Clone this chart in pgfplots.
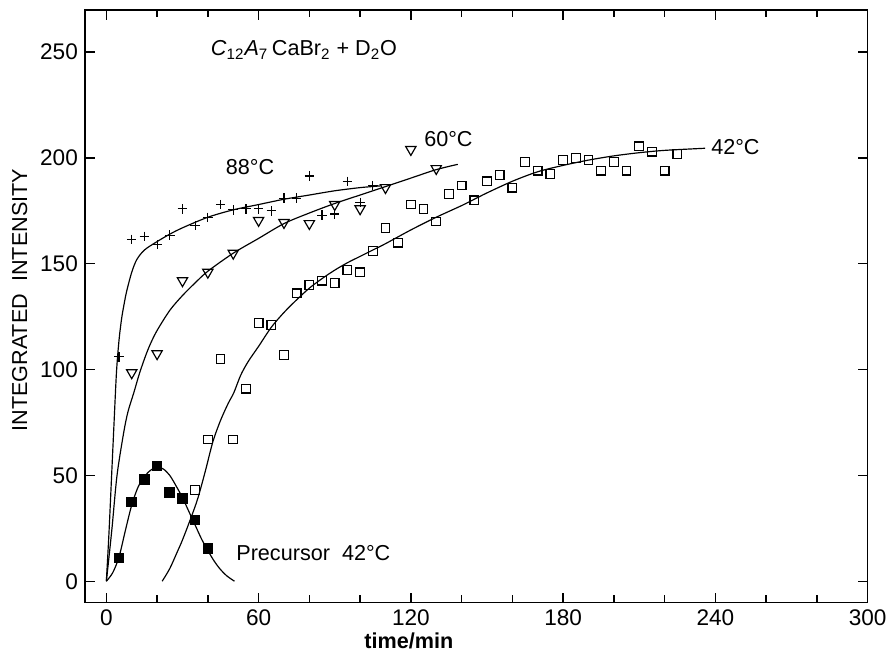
\documentclass[border=0pt]{standalone}
\usepackage{fontspec}
\setmainfont{Liberation Sans}
\usepackage{pgfplots}
\pgfplotsset{compat=1.18}
\begin{document}
\begin{tikzpicture}
\begin{axis}[
  scale only axis, width=397bp, height=300.5bp,
  xmin=-8.5, xmax=300, ymin=-10, ymax=270,
  axis line style={line width=0.9pt},
  xtick={0,60,...,300},
  minor xtick={20,40,80,100,140,160,200,220,260,280},
  ytick={0,50,...,250},
  tick align=inside,
  major tick length=5bp, minor tick length=3.5bp,
  every tick/.style={line width=0.7pt, black},
  /pgf/number format/assume math mode=true,
  ticklabel style={font=\fontsize{11.5}{13}\selectfont},
  xlabel={time/min},
  ylabel={INTEGRATED\ \ INTENSITY},
  xlabel style={at={(ticklabel cs:0.414)}, anchor=north, font=\bfseries\fontsize{11}{13}\selectfont, yshift=3bp},
  ylabel style={at={(rel axis cs:0,0.51)}, anchor=center, yshift=33bp, font=\fontsize{11}{13}\selectfont},
  clip=false,
  every axis plot/.append style={line width=0.6pt, black},
]
% 88 C data
\addplot[only marks, mark=+, mark size=2.4bp] coordinates {
(5,106) (10,161.5) (15,163) (20,159) (25,163.5) (30,176) (35,168) (40,172)
(45,178) (50,175.5) (55,176) (60,176) (65,175) (70,181) (75,181) (80,191.5)
(85,173) (90,173.5) (95,189) (100,179) (105,187)};
% 60 C data
\addplot[only marks, mark=triangle, mark size=3bp, mark options={rotate=180}] coordinates {
(10,98.5) (20,107.5) (30,142) (40,146) (50,155) (60,170.5) (70,169.5) (80,169)
(90,178) (100,176) (110,186) (120,204) (130,195)};
% 42 C data
\addplot[only marks, mark=square, mark size=2.2bp] coordinates {
(35,43) (40,67) (45,105) (50,67) (55,91) (60,122) (65,121) (70,107) (75,136)
(80,140) (85,142) (90,141) (95,147) (100,146) (105,156) (110,167) (115,160)
(120,178) (125,176) (130,170) (135,183) (140,187) (145,180) (150,189) (155,192)
(160,186) (165,198) (170,194) (175,192.5) (180,199) (185,200) (190,199) (195,194)
(200,198) (205,194) (210,205.5) (215,203) (220,194) (225,202)};
% precursor data
\addplot[only marks, mark=square*, mark size=2.4bp] coordinates {
(5,11) (10,37.5) (15,48) (20,54.5) (25,42) (30,39) (35,29) (40,15.5)};
% curves
\addplot[smooth, no marks] coordinates {
(0,0) (1,22) (2,48) (3,74) (4,99) (5,114) (6,124) (7,131) (8,137) (10,146)
(12,152) (15,156.5) (20,160.5) (25,164) (30,167) (40,172) (50,175.5) (60,178)
(70,180.5) (80,182.5) (90,184.5) (100,186) (108,186.8)};
\addplot[smooth, no marks] coordinates {
(0,0) (1,11) (2.3,26) (4.2,50) (6.8,70) (8.5,80) (10.8,89) (13,98) (15.3,106)
(17.3,112) (20,118.5) (25,128) (30,135) (35,141) (40,146.5) (50,155) (60,162)
(70,169) (80,174) (90,178.5) (100,182.5) (110,186.5) (120,190.5) (130,194.5) (138.5,197)};
\addplot[smooth, no marks] coordinates {
(22,0) (25,6) (28,14) (30,19.5) (33.2,29.5) (36,39) (39,52) (42,66) (45,76)
(48,84) (50.2,89) (53,97.5) (56,104) (60,111) (65,120) (70,127) (75,133)
(80,138.5) (85,143) (90,147) (95,150.5) (100,153.5) (105,156.5) (110,159.5)
(120,166) (130,172) (140,177.5) (145,180.5) (150,183.5) (160,189) (170,193.5)
(180,196.5) (190,199) (200,201) (210,202.5) (220,203.6) (236,204.6)};
\addplot[smooth, no marks] coordinates {
(0,0) (2.5,4) (5,11.5) (7.5,24) (10,36) (12.5,44.5) (15,49.5) (17.5,52.5)
(20,54) (22.5,53) (25,50) (27.5,45) (30,39.5) (32.5,33) (35,26.5) (37.5,20)
(40,14.5) (42.5,9.5) (45,5.5) (47.5,2.5) (50.5,0)};
% labels
\node[anchor=west, font=\fontsize{11}{13}\selectfont] at (axis cs:38.5,251)
  {\textit{C}\textsubscript{12}\textit{A}\textsubscript{7}\,CaBr\textsubscript{2} + D\textsubscript{2}O};
\node[font=\fontsize{11}{13}\selectfont] at (axis cs:56.6,195.7) {88°C};
\node[font=\fontsize{11}{13}\selectfont] at (axis cs:134.8,209) {60°C};
\node[font=\fontsize{11}{13}\selectfont] at (axis cs:247.9,205) {42°C};
\node[anchor=west, font=\fontsize{11}{13}\selectfont] at (axis cs:48.5,13.2) {Precursor\ \ 42°C};
\path (rel axis cs:0,0) ++(-43bp,-21.5bp);
\path (rel axis cs:1,1) ++(6.5bp,5bp);
\end{axis}
\end{tikzpicture}
\end{document}
